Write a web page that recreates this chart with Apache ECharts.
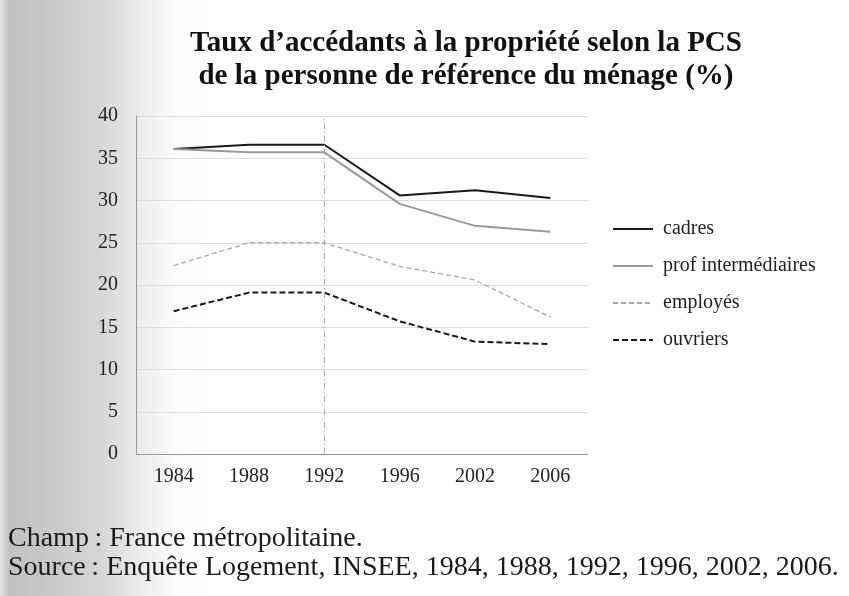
<!DOCTYPE html>
<html>
<head>
<meta charset="utf-8">
<script src="https://cdn.jsdelivr.net/npm/echarts@6/dist/echarts.min.js"></script>
<style>
  html, body {
    margin: 0;
    padding: 0;
  }
  body {
    width: 849px;
    height: 596px;
    background: linear-gradient(to right, #e4e4e4 0px, #c2c2c2 9px, #c8c8c8 50px, #d6d6d6 100px, #ececec 140px, #fbfbfb 175px, #ffffff 210px);
  }
  #chart {
    width: 849px;
    height: 596px;
  }
</style>
</head>
<body>
<div id="chart"></div>
<script>
  // données
  var years = ["1984", "1988", "1992", "1996", "2002", "2006"];
  var cadres = [36.1, 36.6, 36.6, 30.6, 31.2, 30.3];
  var profInter = [36.1, 35.7, 35.7, 29.6, 27.0, 26.3];
  var employes = [22.3, 25.0, 25.0, 22.2, 20.6, 16.2];
  var ouvriers = [16.9, 19.1, 19.1, 15.7, 13.3, 13.0];
  var seriesNames = ["cadres", "prof intermédiaires", "employés", "ouvriers"];

  var serif = "'Liberation Serif', 'DejaVu Serif', serif";
  var chart = echarts.init(document.getElementById("chart"));

  var option = {
    backgroundColor: "transparent",
    animation: false,
    title: {
      text: "Taux d\u2019accédants à la propriété selon la PCS\nde la personne de référence du ménage (%)",
      left: 461,
      top: 22,
      textAlign: "center",
      textStyle: {
        fontFamily: serif,
        fontSize: 29,
        fontWeight: "bold",
        color: "#111",
        lineHeight: 33,
      },
    },
    legend: {
      orient: "vertical",
      left: 612,
      top: 219,
      padding: 0,
      itemWidth: 40,
      itemHeight: 14,
      itemGap: 17,
      itemStyle: { opacity: 0 },
      textStyle: {
        fontFamily: serif,
        fontSize: 20,
        color: "#222",
        padding: [0, 0, 0, 5],
      },
      data: seriesNames,
    },
    grid: {
      left: 136,
      right: 261,
      top: 116,
      bottom: 142,
    },
    xAxis: {
      type: "category",
      data: years,
      boundaryGap: true,
      axisLine: { lineStyle: { color: "#999", width: 1 } },
      axisTick: { show: false },
      axisLabel: {
        fontFamily: serif,
        fontSize: 20,
        color: "#222",
        margin: 13,
      },
    },
    yAxis: {
      type: "value",
      min: 0,
      max: 40,
      interval: 5,
      axisLine: { show: true, lineStyle: { color: "#999", width: 1 } },
      axisTick: { show: false },
      splitLine: { lineStyle: { color: "#ddd", width: 1 } },
      axisLabel: {
        fontFamily: serif,
        fontSize: 20,
        color: "#222",
        margin: 18,
      },
    },
    series: [
      {
        name: seriesNames[0],
        type: "line",
        data: cadres,
        symbol: "none",
        lineStyle: { color: "#1a1a1a", width: 2 },
        itemStyle: { color: "#1a1a1a" },
        markLine: {
          silent: true,
          symbol: "none",
          label: { show: false },
          lineStyle: { color: "#aaa", width: 1, type: [6, 3, 1, 3] },
          data: [{ xAxis: "1992" }],
        },
      },
      {
        name: seriesNames[1],
        type: "line",
        data: profInter,
        symbol: "none",
        lineStyle: { color: "#9a9a9a", width: 2 },
        itemStyle: { color: "#9a9a9a" },
      },
      {
        name: seriesNames[2],
        type: "line",
        data: employes,
        symbol: "none",
        lineStyle: { color: "#a8a8a8", width: 1.3, type: [5, 3] },
        itemStyle: { color: "#a8a8a8" },
      },
      {
        name: seriesNames[3],
        type: "line",
        data: ouvriers,
        symbol: "none",
        lineStyle: { color: "#1a1a1a", width: 2, type: [6, 3] },
        itemStyle: { color: "#1a1a1a" },
      },
    ],
    graphic: [
      {
        type: "text",
        left: 8,
        top: 525,
        style: {
          text: "Champ\u202f: France métropolitaine.",
          fontFamily: serif,
          fontSize: 28,
          fill: "#1a1a1a",
        },
      },
      {
        type: "text",
        left: 8,
        top: 554,
        style: {
          text: "Source\u202f: Enquête Logement, INSEE, 1984, 1988, 1992, 1996, 2002, 2006.",
          fontFamily: serif,
          fontSize: 28,
          fill: "#1a1a1a",
        },
      },
    ],
  };

  chart.setOption(option);
</script>
</body>
</html>
